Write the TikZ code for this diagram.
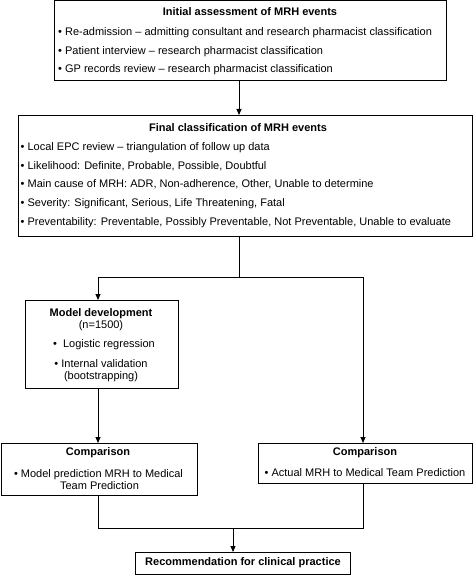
\documentclass[tikz,border=0pt]{standalone}
\usepackage{fontspec}
\setmainfont{Liberation Sans}
\usetikzlibrary{arrows.meta,calc}
\begin{document}
\begin{tikzpicture}[x=1pt,y=-1pt,
  box/.style={draw,line width=0.9pt,inner sep=0,anchor=north west},
  txt/.style={inner sep=0,anchor=west,font=\fontsize{11}{12}\selectfont,text height=7.9pt,text depth=2.3pt},
  ctxt/.style={txt,anchor=center},
  ttl/.style={txt,anchor=center,font=\fontsize{11}{12}\selectfont\bfseries},
  arr/.style={line width=0.9pt,-{Triangle[length=6pt,width=5pt]}},
  ln/.style={line width=0.9pt}]
\useasboundingbox (0,0) rectangle (473,575);
% boxes
\node[box,minimum width=392pt,minimum height=80pt] (b1) at (54,0.5) {};
\node[box,minimum width=454pt,minimum height=121pt] (b2) at (18,115) {};
\node[box,minimum width=153pt,minimum height=88pt] (b3) at (25,300) {};
\node[box,minimum width=196.5pt,minimum height=52pt] (c1) at (0.6,443) {};
\node[box,minimum width=214pt,minimum height=40pt] (c2) at (258,443) {};
\node[box,minimum width=215pt,minimum height=22pt] (rec) at (135,552) {};
% box 1 text
\node[ttl] (t1) at (250,13) {Initial assessment of MRH events};
\node[txt] (t1a) at (58,33) {• Re-admission – admitting consultant and research pharmacist classification};
\node[txt] (t1b) at (58,52) {• Patient interview – research pharmacist classification};
\node[txt] (t1c) at (58,70) {• GP records review – research pharmacist classification};
% box 2 text
\node[ttl] (t2) at (238,129) {Final classification of MRH events};
\node[txt] (t2a) at (20.5,148) {• Local EPC review – triangulation of follow up data};
\node[txt] (t2b) at (20.5,167) {• Likelihood: Definite, Probable, Possible, Doubtful};
\node[txt] (t2c) at (20.5,185) {• Main cause of MRH: ADR, Non-adherence, Other, Unable to determine};
\node[txt] (t2d) at (20.5,204) {• Severity: Significant, Serious, Life Threatening, Fatal};
\node[txt] (t2e) at (20.5,223) {• Preventability: Preventable, Possibly Preventable, Not Preventable, Unable to evaluate};
% box 3 text
\node[ttl] (t3) at (101,314) {Model development};
\node[ctxt] (t3a) at (101,326) {(n=1500)};
\node[ctxt] (t3b) at (104,345) {•\ \ Logistic regression};
\node[ctxt] (t3c) at (101,365) {• Internal validation};
\node[ctxt] (t3d) at (101,377) {(bootstrapping)};
% comparison boxes
\node[ttl] (t4) at (98,453) {Comparison};
\node[ctxt] (t4a) at (98.5,475) {• Model prediction MRH to Medical};
\node[ctxt] (t4b) at (99.5,487) {Team Prediction};
\node[ttl] (t5) at (365,453) {Comparison};
\node[ctxt] (t5a) at (365,474) {• Actual MRH to Medical Team Prediction};
\node[ttl] (t6) at (243,563) {Recommendation for clinical practice};
% junctions
\coordinate (j1) at (239,277);
\coordinate (jL) at (98,277);
\coordinate (jR) at (363,277);
\coordinate (m) at (233,528);
% connectors
\draw[arr] (j1 |- b1.south) -- (j1 |- b2.north);
\draw[ln] (j1 |- b2.south) -- (j1);
\draw[ln] (jL) -- (jR);
\draw[arr] (jL) -- (jL |- b3.north);
\draw[arr] (jR) -- (jR |- c2.north);
\draw[arr] (jL |- b3.south) -- (jL |- c1.north);
\draw[ln] (jL |- c1.south) -- (jL |- m) -- (jR |- m) -- (jR |- c2.south);
\draw[arr] (m) -- (m |- rec.north);
\end{tikzpicture}
\end{document}
